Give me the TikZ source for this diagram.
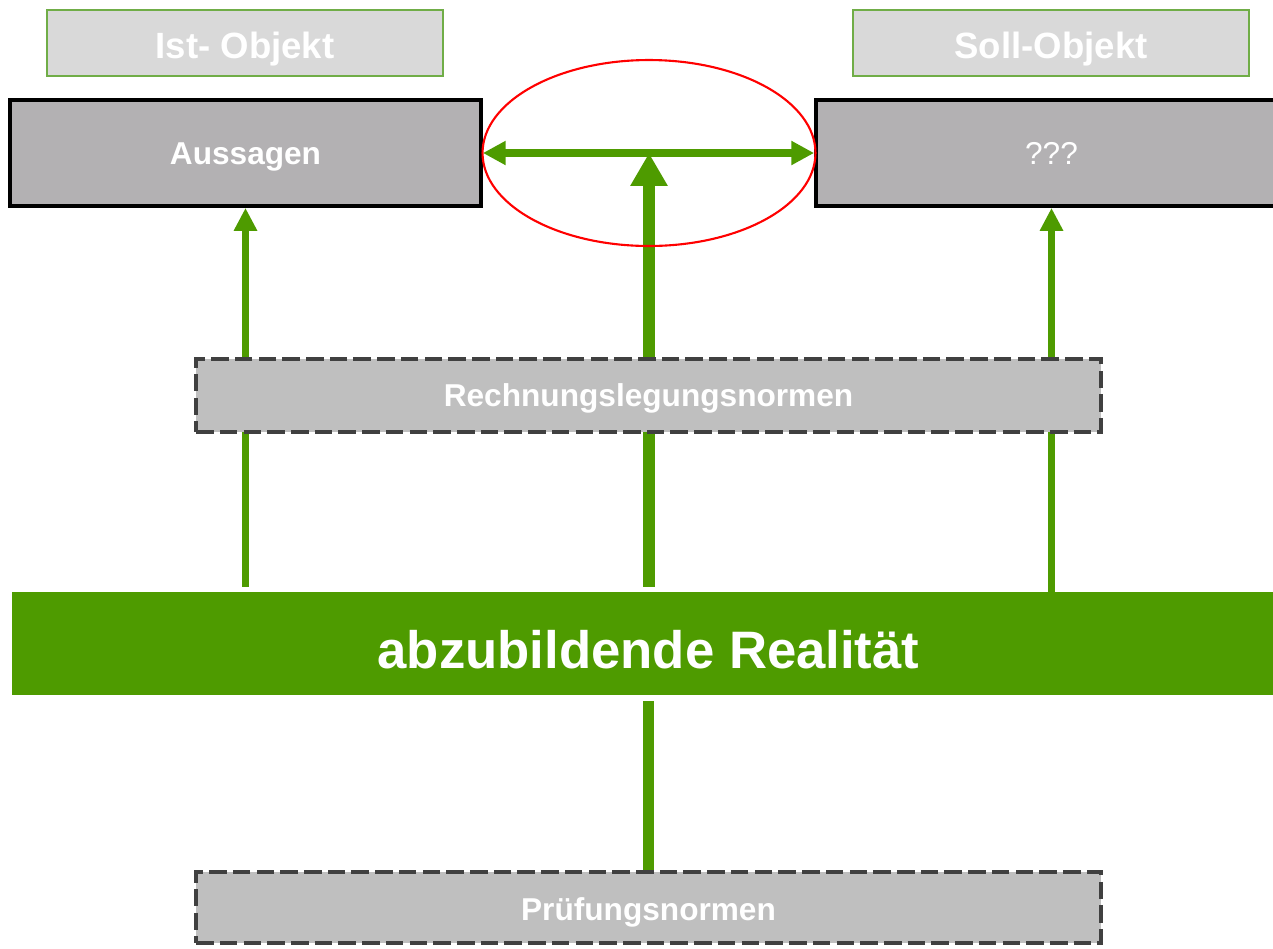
\documentclass[tikz,border=0pt]{standalone}
\usepackage{fontspec}
\setmainfont{Liberation Sans}
\usetikzlibrary{arrows.meta,backgrounds}
\definecolor{realgreen}{RGB}{78,155,0}
\definecolor{framegreen}{RGB}{112,173,71}
\definecolor{labelgray}{RGB}{217,217,217}
\definecolor{objgray}{RGB}{179,177,179}
\definecolor{normgray}{RGB}{191,191,191}
\definecolor{dashgray}{RGB}{64,64,64}

\begin{document}
\begin{tikzpicture}[x=0.02cm, y=-0.02cm,
    titlebox/.style={draw=framegreen, line width=1.2pt, fill=labelgray, text=white,
      minimum width=7.92cm, minimum height=1.32cm, text height=17.8pt, text depth=0pt,
      font=\fontsize{20.8}{24}\selectfont\bfseries},
    objbox/.style={draw=black, line width=2.2pt, fill=objgray, text=white,
      minimum width=9.42cm, minimum height=2.12cm, text height=13pt, text depth=0pt,
      font=\fontsize{18}{22}\selectfont},
    normbox/.style={draw=dashgray, line width=2.3pt, dash pattern=on 10pt off 3.5pt,
      fill=normgray, text=white, minimum width=18.1cm, minimum height=1.46cm,
      text height=13pt, text depth=0pt, font=\fontsize{18}{22}\selectfont\bfseries},
    thinarrow/.style={draw=realgreen, line width=4pt, -{Triangle[length=13pt,width=12.5pt]}},
    bigarrow/.style={draw=realgreen, line width=6.8pt, -{Triangle[length=18.7pt,width=20pt]}},
    bigline/.style={draw=realgreen, line width=6.8pt},
    linkarrow/.style={draw=realgreen, line width=4pt,
      {Triangle[length=13pt,width=13pt]}-{Triangle[length=13pt,width=13pt]}}]
  \useasboundingbox (0,0) rectangle (1273,948);
  \clip (0,0) rectangle (1273,948);

  % Objects
  \node[titlebox] (ist) at (245,43) {Ist- Objekt};
  \node[titlebox] (soll) at (1051,43) {Soll-Objekt};
  \node[objbox] (aussagen) at (245.5,153) {\bfseries Aussagen};
  \node[objbox] (offen) at (1051.5,153) {???};
  \coordinate (mid) at (649,153);

  % Norms and reality
  \node[normbox] (rlnormen) at (648.5,395.5) {Rechnungslegungsnormen};
  \node[fill=realgreen, text=white, minimum width=25.46cm, minimum height=2.06cm,
    text height=29pt, text depth=0pt,
    font=\fontsize{30}{36}\selectfont\bfseries] (realitaet) at (648.5,643.5) {abzubildende Realität};
  \node[normbox, minimum height=1.42cm, text height=14.7pt] (pnormen) at (648.5,907.5) {Prüfungsnormen};

  % Arrows behind the norm boxes
  \begin{scope}[on background layer]
    \draw[thinarrow, shorten <=0.1cm] (realitaet.north -| aussagen.south) -- (aussagen.south);
    \draw[thinarrow] (realitaet.north -| offen.south) -- (offen.south);
    \draw[bigarrow, shorten <=0.1cm] (realitaet.north -| mid) -- (mid);
    \draw[bigline, shorten <=0.12cm] (realitaet.south) -- (pnormen.north);
  \end{scope}

  % Comparison
  \draw[linkarrow] (aussagen.east) -- (offen.west);
  \draw[red, line width=1.2pt] (mid) ellipse [x radius=3.33cm, y radius=1.86cm];
\end{tikzpicture}
\end{document}
